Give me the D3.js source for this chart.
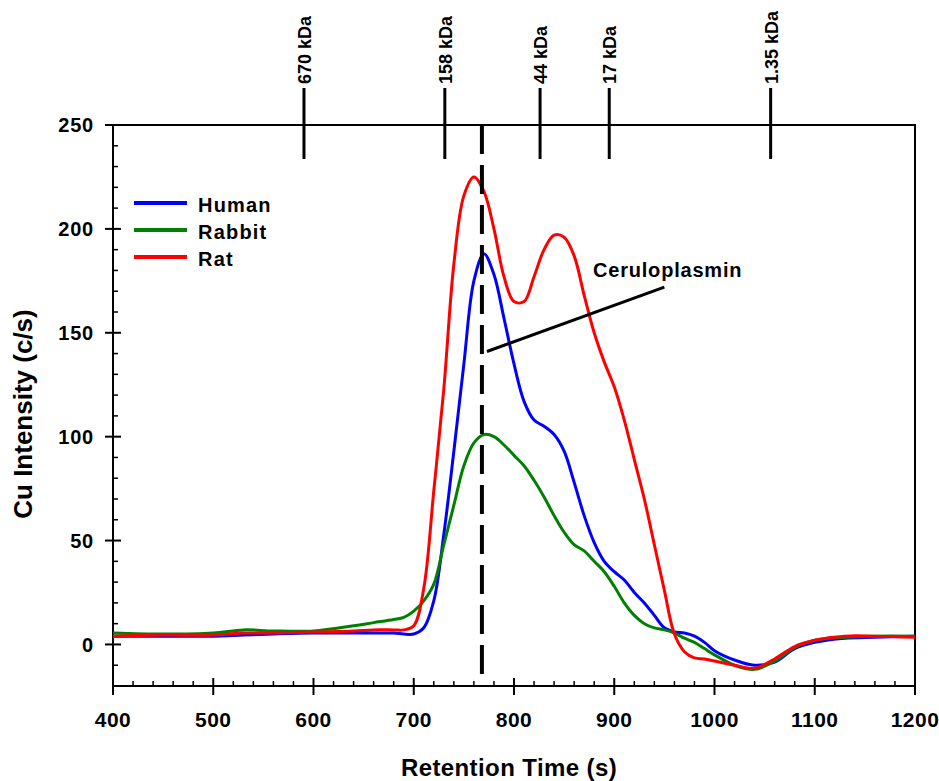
<!DOCTYPE html>
<html>
<head>
<meta charset="utf-8">
<script src="https://cdn.jsdelivr.net/npm/d3@7"></script>
<style>
  body { margin: 0; background: #fff; }
  text { font-family: "Liberation Sans", Arial, sans-serif; font-weight: bold; }
</style>
</head>
<body>
<div id="my_dataviz"></div>
<script>

// retention time grid (s)
var times = [400,450,500,530,560,600,640,660,680,690,700,710,720,730,740,750,760,770,780,790,800,810,820,830,840,850,860,870,880,890,900,910,920,930,940,950,960,970,980,990,1000,1020,1040,1060,1080,1100,1130,1160,1200];

var human  = [4,4,4,4.5,5,5.5,5.5,5.5,5.5,5,5,8,21,53,93,135,175,188,178,157,135,117,108,105,101,93,78,62,49,40,35,31,25,20,14,8,6,5.5,4,1,-3,-7.5,-10,-8.5,-2,1,3,3.5,4];
var rabbit = [5.5,5,5.5,7,6.5,6.5,9,10.5,12,13,16,21,29,48,67,86,97,101,100,96,91,86,79,71,62,54,48,45,40,35,28,20,14,10,8,7,5.5,3,1,-2,-5,-10,-12,-8,-1.5,2,3.5,4,4];
var rat    = [4,4.5,4.5,5.5,5.5,6,6.5,7,7,7,9,27,74,123,183,216,225,218,200,177,165,165,177,190,197,196,187,168,150,136,124,108,89,70,48,26,5,-3.5,-6.5,-7,-8,-10,-11.5,-7,-1,2,4,4,3.5];

var seriesNames = ["Human", "Rabbit", "Rat"];
var seriesColors = ["#0000ff", "#008000", "#ff0000"];

// molecular weight markers on top
var markerLabels = ["670 kDa", "158 kDa", "44 kDa", "17 kDa", "1.35 kDa"];
var markerTimes = [590.5, 731, 826, 895, 1056];

var ceruloplasminTime = 768;

var xTicks = [400,500,600,700,800,900,1000,1100,1200];
var yTicks = [0,50,100,150,200,250];

var width = 939, height = 781;
var margin = {top: 125, right: 24, bottom: 95, left: 113};

var svg = d3.select("#my_dataviz")
  .append("svg")
  .attr("width", width)
  .attr("height", height);

var x = d3.scaleLinear().domain([400, 1200]).range([margin.left, width - margin.right]);
var y = d3.scaleLinear().domain([-20, 250]).range([height - margin.bottom, margin.top]);

var x0 = x.range()[0], x1 = x.range()[1];
var yb = y.range()[0], yt = y.range()[1];

// frame: top and right lines
svg.append("path")
  .attr("d", "M" + x0 + "," + yt + "H" + x1 + "V" + yb)
  .attr("fill", "none")
  .attr("stroke", "#000")
  .attr("stroke-width", 2);

// x axis
var xMinor = d3.range(400, 1201, 20).filter(d => d % 100 != 0);
svg.append("line").attr("x1", x0).attr("x2", x1).attr("y1", yb).attr("y2", yb)
  .attr("stroke", "#000").attr("stroke-width", 2);
svg.selectAll(".xmaj").data(xTicks).enter().append("line")
  .attr("x1", d => x(d)).attr("x2", d => x(d))
  .attr("y1", yb - 8).attr("y2", yb + 9)
  .attr("stroke", "#000").attr("stroke-width", 2);
svg.selectAll(".xmin").data(xMinor).enter().append("line")
  .attr("x1", d => x(d)).attr("x2", d => x(d))
  .attr("y1", yb - 5).attr("y2", yb)
  .attr("stroke", "#000").attr("stroke-width", 1.5);
svg.selectAll(".xlab").data(xTicks).enter().append("text")
  .attr("x", d => x(d))
  .attr("y", 727)
  .attr("text-anchor", "middle")
  .attr("font-size", "21px")
  .attr("letter-spacing", "0.5px")
  .text(d => d);

// y axis
var yMinor = d3.range(-20, 251, 10).filter(d => d % 50 != 0);
svg.append("line").attr("x1", x0).attr("x2", x0).attr("y1", yt).attr("y2", yb)
  .attr("stroke", "#000").attr("stroke-width", 2);
svg.selectAll(".ymaj").data(yTicks).enter().append("line")
  .attr("x1", x0 - 8).attr("x2", x0 + 8)
  .attr("y1", d => y(d)).attr("y2", d => y(d))
  .attr("stroke", "#000").attr("stroke-width", 2);
svg.selectAll(".ymin").data(yMinor).enter().append("line")
  .attr("x1", x0).attr("x2", x0 + 5)
  .attr("y1", d => y(d)).attr("y2", d => y(d))
  .attr("stroke", "#000").attr("stroke-width", 1.5);
svg.selectAll(".ylab").data(yTicks).enter().append("text")
  .attr("x", 94)
  .attr("y", d => y(d))
  .attr("dy", "0.36em")
  .attr("text-anchor", "end")
  .attr("font-size", "20px")
  .attr("letter-spacing", "0.8px")
  .text(d => d);

// axis titles
svg.append("text")
  .attr("x", (x0 + x1) / 2 - 5)
  .attr("y", 776)
  .attr("text-anchor", "middle")
  .attr("font-size", "24px")
  .attr("letter-spacing", "0.4px")
  .text("Retention Time (s)");
svg.append("text")
  .attr("transform", "translate(32," + 414 + ") rotate(-90)")
  .attr("text-anchor", "middle")
  .attr("font-size", "26px")
  .text("Cu Intensity (c/s)");

// kDa markers
svg.selectAll(".mk").data(markerTimes).enter().append("line")
  .attr("x1", d => x(d)).attr("x2", d => x(d))
  .attr("y1", 88).attr("y2", 159)
  .attr("stroke", "#000").attr("stroke-width", 3);
svg.selectAll(".mklab").data(markerTimes).enter().append("text")
  .attr("transform", d => "translate(" + (x(d) + 7) + ",84) rotate(-90)")
  .attr("font-size", "18px")
  .text((d, i) => markerLabels[i]);

// curves
var line = d3.line()
  .x((d, i) => x(times[i]))
  .y(d => y(d))
  .curve(d3.curveCatmullRom.alpha(0.5));

[human, rabbit, rat].forEach(function(s, i) {
  svg.append("path")
    .datum(s)
    .attr("d", line)
    .attr("fill", "none")
    .attr("stroke", seriesColors[i])
    .attr("stroke-width", 3)
    .attr("stroke-linejoin", "round");
});

// dashed line at ceruloplasmin elution
svg.append("line")
  .attr("x1", x(ceruloplasminTime)).attr("x2", x(ceruloplasminTime))
  .attr("y1", yt).attr("y2", yb)
  .attr("stroke", "#000")
  .attr("stroke-width", 4)
  .attr("stroke-dasharray", "29,11");

// annotation
svg.append("line")
  .attr("x1", x(773)).attr("y1", y(141))
  .attr("x2", x(950)).attr("y2", y(172))
  .attr("stroke", "#000").attr("stroke-width", 3);
svg.append("text")
  .attr("x", 593)
  .attr("y", 277)
  .attr("font-size", "20px")
  .attr("letter-spacing", "0.8px")
  .text("Ceruloplasmin");

// legend
var legend = svg.selectAll(".legend")
  .data(seriesNames)
  .enter().append("g")
  .attr("transform", (d, i) => "translate(0," + (203 + i * 27) + ")");
legend.append("line")
  .attr("x1", 134).attr("x2", 187)
  .attr("y1", 0).attr("y2", 0)
  .attr("stroke", (d, i) => seriesColors[i])
  .attr("stroke-width", 4);
legend.append("text")
  .attr("x", 198)
  .attr("y", 9)
  .attr("font-size", "20px")
  .attr("letter-spacing", "1.2px")
  .text(d => d);

</script>
</body>
</html>
